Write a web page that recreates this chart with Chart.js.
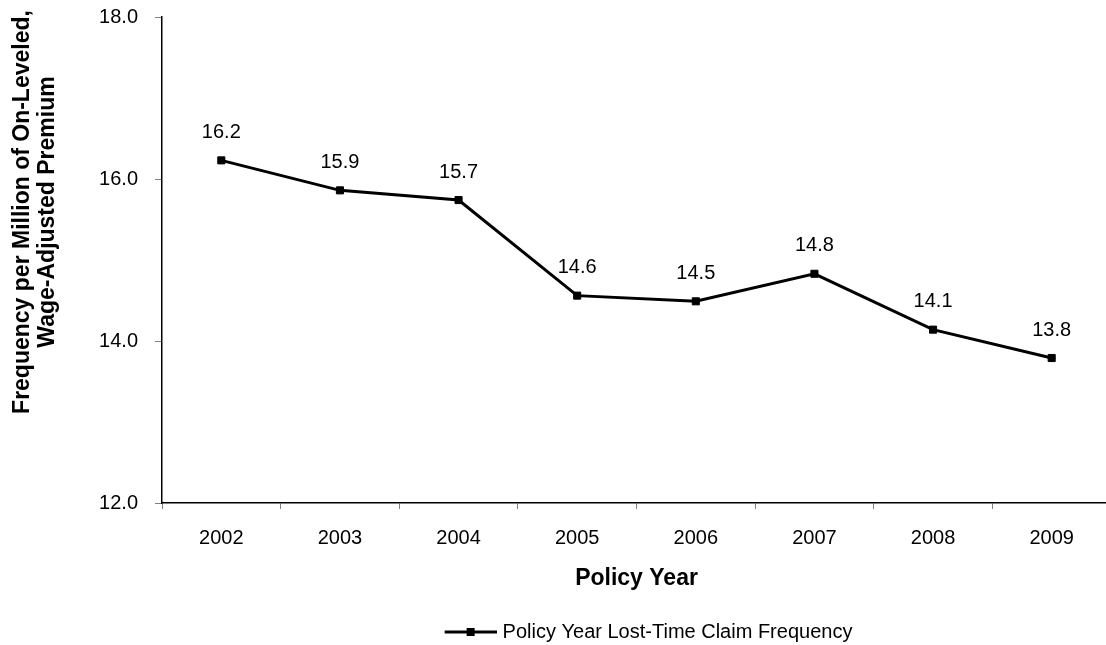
<!DOCTYPE html>
<html>
<head>
<meta charset="utf-8">
<script src="https://cdn.jsdelivr.net/npm/chart.js@4.4.1/dist/chart.umd.min.js"></script>
<style>
  html, body { margin: 0; padding: 0; background: #fff; overflow: hidden; }
  canvas { display: block; }
</style>
</head>
<body>
<canvas id="chartFrequency" width="1120" height="645"></canvas>
<script>
// Data
const policyYears = ["2002", "2003", "2004", "2005", "2006", "2007", "2008", "2009"];
const claimFrequency = [16.23, 15.86, 15.74, 14.56, 14.49, 14.83, 14.14, 13.79];
const yTicks = [12, 14, 16, 18];
const seriesName = "Policy Year Lost-Time Claim Frequency";
const xTitle = "Policy Year";
const yTitleLines = ["Frequency per Million of On-Leveled,", "Wage-Adjusted Premium"];

const FONT = "'Liberation Sans', Arial, Helvetica, sans-serif";
Chart.defaults.font.family = FONT;
Chart.defaults.font.size = 20;
Chart.defaults.color = "#000";

// Legend marker: line with a square in the middle (left part left blank so the
// marker sits closer to the text)
function legendMarker() {
  const c = document.createElement("canvas");
  c.width = 80;
  c.height = 12;
  const g = c.getContext("2d");
  g.strokeStyle = "#000";
  g.lineWidth = 3;
  g.beginPath();
  g.moveTo(28, 6);
  g.lineTo(80, 6);
  g.stroke();
  g.fillStyle = "#000";
  g.fillRect(50, 2, 8, 8);
  return c;
}

// Value labels above each point
const valueLabels = {
  id: "valueLabels",
  afterDatasetsDraw(chart) {
    const ctx = chart.ctx;
    const meta = chart.getDatasetMeta(0);
    ctx.save();
    ctx.font = "20px " + FONT;
    ctx.fillStyle = "#000";
    ctx.textAlign = "center";
    ctx.textBaseline = "middle";
    meta.data.forEach((pt, i) => {
      ctx.fillText(claimFrequency[i].toFixed(1), pt.x, pt.y - 28);
    });
    ctx.restore();
  },
};

// Two-line rotated y title
const yTitle = {
  id: "yTitle",
  afterDraw(chart) {
    const ctx = chart.ctx;
    ctx.save();
    ctx.font = "bold 23px " + FONT;
    ctx.fillStyle = "#000";
    ctx.textAlign = "center";
    ctx.textBaseline = "middle";
    yTitleLines.forEach((line, i) => {
      ctx.save();
      ctx.translate(23 + i * 25, 212);
      ctx.rotate(-Math.PI / 2);
      ctx.fillText(line, 0, 0);
      ctx.restore();
    });
    ctx.restore();
  },
};

new Chart(document.getElementById("chartFrequency"), {
  type: "line",
  data: {
    labels: policyYears,
    datasets: [
      {
        label: seriesName,
        data: claimFrequency,
        borderColor: "#000",
        backgroundColor: "#000",
        borderWidth: 3,
        pointStyle: "rect",
        pointRadius: 5,
        pointBorderWidth: 1,
        tension: 0,
        fill: false,
      },
    ],
  },
  options: {
    responsive: false,
    animation: false,
    layout: { padding: { top: 17, right: 9, left: 0, bottom: -7 } },
    plugins: {
      tooltip: { enabled: false },
      legend: {
        position: "bottom",
        fullSize: false,
        labels: {
          usePointStyle: true,
          pointStyle: legendMarker(),
          pointStyleWidth: 72,
          padding: 10,
          font: { size: 20 },
          color: "#000",
        },
      },
    },
    scales: {
      x: {
        offset: true,
        afterFit(scale) {
          scale.height = 109;
        },
        grid: {
          offset: true,
          drawOnChartArea: false,
          tickLength: 6,
          color: "#808080",
        },
        border: { color: "#000", width: 1.5 },
        ticks: { padding: 17, font: { size: 20 }, color: "#000" },
        title: {
          display: true,
          text: xTitle,
          font: { size: 23, weight: "bold" },
          color: "#000",
          padding: { top: 0, bottom: 20 },
        },
      },
      y: {
        min: yTicks[0],
        max: yTicks[yTicks.length - 1],
        afterFit(scale) {
          scale.width = 162;
          // keep the plot top/bottom set by the layout padding alone
          scale.paddingTop = 0;
          scale.paddingBottom = 0;
        },
        grid: {
          drawOnChartArea: false,
          tickLength: 7,
          color: "#808080",
        },
        border: { color: "#000", width: 1.5 },
        ticks: {
          stepSize: yTicks[1] - yTicks[0],
          padding: 17,
          font: { size: 20 },
          color: "#000",
          callback: (v) => v.toFixed(1),
        },
      },
    },
  },
  plugins: [valueLabels, yTitle],
});
</script>
</body>
</html>
